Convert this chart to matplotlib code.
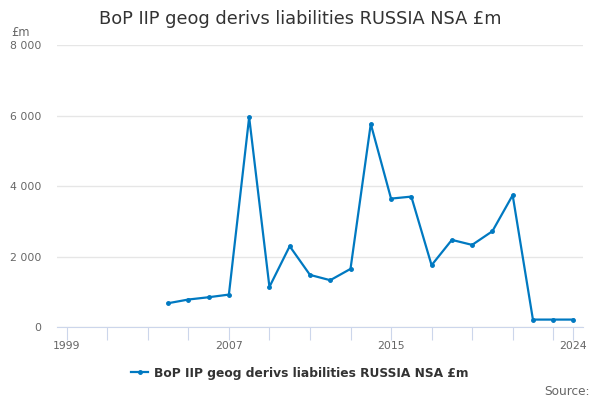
import matplotlib
matplotlib.use("Agg")
import matplotlib.pyplot as plt
from matplotlib.ticker import FuncFormatter

years = list(range(2004, 2025))
values = [680, 785, 850, 925, 5957, 1143, 2298, 1484, 1333, 1654, 5767,
          3648, 3705, 1759, 2477, 2335, 2723, 3745, 216, 216, 216]

tick_years = list(range(1999, 2024, 2)) + [2024]
label_years = [1999, 2007, 2015, 2024]
y_ticks = [0, 2000, 4000, 6000, 8000]

title = "BoP IIP geog derivs liabilities RUSSIA NSA £m"
line_color = "#0079c1"

fig = plt.figure(figsize=(6, 4), dpi=100)
ax = fig.add_axes([0.095, 0.182, 0.877, 0.705])

ax.plot(years, values, color=line_color, lw=1.6, marker="o", ms=2.5,
        label=title)

ax.set_xlim(1998.52, 2024.48)
ax.set_ylim(0, 8000)
ax.set_yticks(y_ticks)
ax.yaxis.set_major_formatter(FuncFormatter(lambda v, p: f"{int(v):,}".replace(",", " ")))
ax.set_xticks(tick_years)
ax.set_xticklabels([str(y) if y in label_years else "" for y in tick_years])

ax.grid(axis="y", color="#e6e6e6", lw=1)
ax.set_axisbelow(True)
for s in ["top", "right", "left"]:
    ax.spines[s].set_visible(False)
ax.spines["bottom"].set_color("#ccd6eb")
ax.tick_params(axis="y", length=0, labelsize=7.8, labelcolor="#666666", pad=11)
ax.tick_params(axis="x", length=9, color="#ccd6eb", labelsize=7.8,
               labelcolor="#666666", pad=1)

fig.text(0.5, 0.952, title, ha="center", va="center", fontsize=12.8, color="#333333")
fig.text(0.018, 0.92, "£m", ha="left", va="center", fontsize=8.3, color="#666666")

leg = fig.legend(loc="center", bbox_to_anchor=(0.5, 0.067), frameon=False,
                 prop={"weight": "bold", "size": 8.8}, handlelength=1.4,
                 handletextpad=0.5)
for t in leg.get_texts():
    t.set_color("#333333")

fig.text(0.983, 0.022, "Source:", ha="right", va="center", fontsize=8.7, color="#666666")

fig.savefig("out.png", dpi=100)
